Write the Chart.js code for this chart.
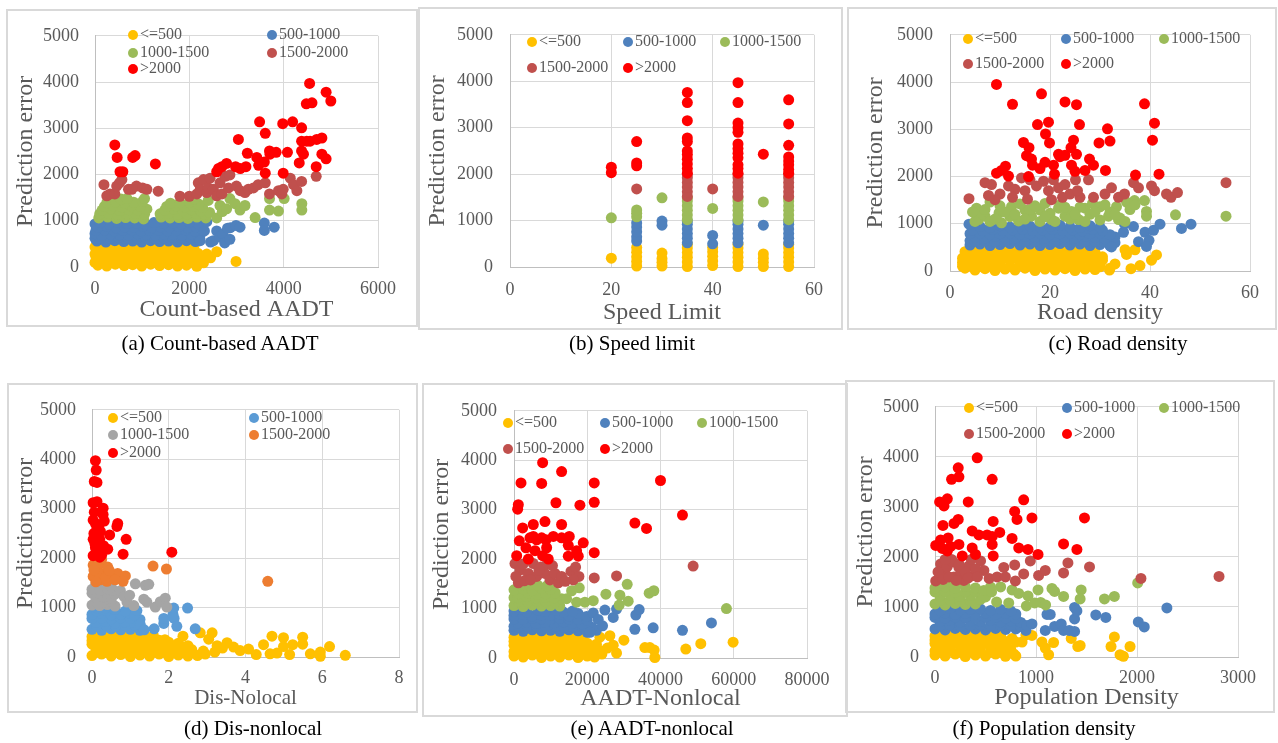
<!DOCTYPE html>
<html>
<head>
<meta charset="utf-8">
<script src="https://cdn.jsdelivr.net/npm/chart.js@4"></script>
<style>
body{margin:0;background:#fff;width:1278px;height:743px;position:relative;overflow:hidden;font-family:"Liberation Serif","Times New Roman",serif;}
canvas{position:absolute}
.frame{position:absolute;border:2px solid #d9d9d9;box-sizing:border-box;pointer-events:none}
.cap{position:absolute;font-size:21px;color:#000;white-space:nowrap;transform:translate(-50%,-50%);line-height:1}
.lg{position:absolute;font-size:16px;color:#595959;white-space:nowrap;transform:translateY(-50%);line-height:1}
.lg i{display:inline-block;width:10px;height:10px;border-radius:50%;margin-right:2px;vertical-align:-1px}
</style>
</head>
<body>
<script>
// series labels shared by all six panels
const labels = ['<=500', '500-1000', '1000-1500', '1500-2000', '>2000'];

// (a) Count-based AADT
const aLe500 = [[60,40],[250,20],[430,60],[620,30],[800,50],[990,20],[1180,60],[1370,30],[1560,50],[1750,20],[1940,40],[2150,30],
  [0,100],[150,110],[340,120],[530,100],[720,110],[910,120],[1100,100],[1290,110],[1480,120],[1670,100],[1860,110],[2050,120],
  [20,220],[160,180],[350,200],[540,170],[730,210],[920,190],[1110,170],[1300,210],[1490,180],[1680,200],[1870,170],[2060,210],
  [0,280],[120,270],[310,260],[500,280],[690,270],[880,260],[1070,280],[1260,270],[1450,260],[1640,280],[1830,270],[2020,260],[2180,300],
  [80,360],[270,340],[460,370],[650,330],[840,360],[1030,340],[1220,370],[1410,330],[1600,360],[1790,340],[1980,370],
  [0,430],[120,410],[310,420],[500,400],[690,420],[880,410],[1070,420],[1260,400],[1450,420],[1640,410],[1830,420],[2020,400],
  [30,470],[200,480],[390,460],[580,490],[770,470],[960,480],[1150,460],[1340,490],[1530,470],[1720,480],[1910,460],[2100,450],
  [2160,15],[2210,240],[2300,90],[2370,280],[2450,200],[2580,330],[2990,120]];
const a500to1000 = [[40,560],[230,540],[420,570],[610,550],[800,560],[990,540],[1180,570],[1370,550],[1560,560],[1750,540],[1940,570],[2130,550],
  [0,620],[120,630],[320,620],[510,640],[700,620],[890,630],[1080,640],[1270,620],[1460,630],[1650,640],[1840,620],[2030,630],[2220,620],
  [0,720],[140,690],[330,710],[520,700],[710,690],[900,720],[1090,700],[1280,690],[1470,710],[1660,700],[1850,690],[2040,710],[2230,700],
  [20,790],[210,800],[400,780],[590,790],[780,800],[970,780],[1160,790],[1350,800],[1540,780],[1730,790],[1920,800],[2110,780],[2280,800],
  [60,860],[250,880],[440,850],[630,870],[820,860],[1010,880],[1200,850],[1390,870],[1580,860],[1770,880],[1960,850],[2140,870],
  [0,930],[300,930],[680,940],[1060,930],[1450,940],[1830,930],[2200,920],
  [110,960],[480,970],[880,950],[1250,960],[1650,955],[2000,965],
  [2230,570],[2320,780],[2370,980],[2450,540],[2510,570],[2580,780],[2650,650],[2710,710],[2750,520],[2810,840],[2860,600],[2870,850],[2990,900],[3075,860],[3590,950],[3590,790],[3800,860]];
const a1000to1500 = [[80,1060],[270,1080],[460,1050],[650,1070],[840,1060],[1030,1040],[1400,1080],[1590,1060],[1780,1070],[1970,1050],[2160,1080],[2350,1060],
  [100,1150],[290,1160],[480,1140],[670,1150],[860,1160],[1050,1140],[1380,1150],[1570,1160],[1760,1140],[1950,1150],[2140,1160],[2330,1140],
  [150,1230],[340,1250],[530,1220],[720,1240],[910,1230],[1100,1250],[1480,1230],[1670,1250],[1860,1220],[2050,1240],[2240,1210],[2430,1180],
  [200,1310],[390,1320],[580,1300],[770,1320],[960,1310],[1520,1310],[1710,1320],[1900,1300],[2090,1310],[2280,1290],
  [250,1390],[440,1410],[630,1380],[820,1400],[1010,1420],[1600,1380],[1800,1390],[2000,1400],[2200,1360],
  [550,1470],[680,1480],[1050,1480],[2100,1470],[2400,1440],
  [2580,1060],[2650,1330],[2700,1200],[2790,1260],[2860,1480],[2970,1370],[3075,1230],[3180,1330],[3395,1070],[3700,1230],[3700,1480],[3890,1210],[4010,1480],[4385,1370],[4385,1230]];
const a1500to2000 = [[190,1780],[250,1540],[320,1580],[420,1580],[460,1750],[520,1820],[570,1890],[710,1680],[780,1680],[880,1750],[1010,1710],[1100,1680],[1340,1640],[1800,1530],[2000,1530],
  [2160,1580],[2190,1820],[2230,1680],[2300,1890],[2370,1610],[2400,1710],[2440,1920],[2510,1680],[2580,1540],[2650,1820],[2690,1580],[2760,1960],[2830,1710],[2860,1990],[3000,1750],[3080,1650],[3180,1610],[3250,1680],[3360,1710],[3460,1780],[3610,1820],[3700,1580],[3890,1650],[3960,1580],[3990,1680],[4140,1920],[4210,1780],[4280,1650],[4380,1850],[4690,1960]];
const a2000plus = [[420,2640],[470,2370],[530,2060],[590,2060],[800,2370],[850,2410],[1280,2230],
  [2580,2060],[2620,2130],[2690,2170],[2790,2240],[2980,2170],[3040,2760],[3080,2130],[3200,2170],[3230,2460],
  [3430,2370],[3470,2200],[3490,3140],[3590,2270],[3610,2890],[3610,2030],[3700,2510],[3710,2440],[3840,2480],
  [3980,3100],[3990,2030],[4080,2480],[4190,3140],[4330,2250],[4380,3010],[4380,2720],[4380,2510],[4420,2440],[4490,2720],[4560,2720],
  [4480,3530],[4550,3970],[4600,3550],[4690,2170],[4700,2760],[4810,2790],[4810,2440],[4900,3780],[4900,2340],[5000,3590]];

// (b) Speed limit
const bLe500 = [[20,190],[25,20],[25,120],[25,220],[25,320],[25,420],[30,20],[30,100],[30,180],[30,300],[35,10],[35,110],[35,210],[35,310],[35,410],[35,490],
  [40,30],[40,130],[40,230],[40,330],[40,420],[45,10],[45,110],[45,210],[45,310],[45,410],[45,490],[50,10],[50,100],[50,190],[50,280],
  [55,10],[55,110],[55,210],[55,310],[55,410],[55,490]];
const b500to1000 = [[25,560],[25,650],[25,760],[25,860],[25,950],[30,900],[30,990],[35,520],[35,620],[35,720],[35,820],[35,920],[35,990],[40,500],[40,680],
  [45,520],[45,620],[45,720],[45,820],[45,920],[45,990],[50,900],[55,520],[55,620],[55,720],[55,820],[55,920],[55,990]];
const b1000to1500 = [[20,1060],[25,1080],[25,1160],[25,1230],[30,1490],[35,1020],[35,1120],[35,1220],[35,1320],[35,1420],[35,1490],[40,1260],
  [45,1020],[45,1120],[45,1220],[45,1320],[45,1420],[45,1490],[50,1400],[55,1020],[55,1120],[55,1220],[55,1320],[55,1420],[55,1490]];
const b1500to2000 = [[25,1680],[35,1520],[35,1620],[35,1720],[35,1820],[35,1920],[35,1990],[40,1680],[45,1520],[45,1620],[45,1720],[45,1820],[45,1920],[45,1990],
  [55,1520],[55,1620],[55,1720],[55,1820],[55,1920],[55,1990]];
const b2000plus = [[20,2030],[20,2150],[25,2180],[25,2240],[25,2700],[35,2020],[35,2120],[35,2220],[35,2320],[35,2420],[35,2500],[35,2700],[35,2780],[35,3150],[35,3540],[35,3760],
  [45,2020],[45,2120],[45,2200],[45,2350],[45,2450],[45,2550],[45,2650],[45,2900],[45,3000],[45,3100],[45,3540],[45,3970],[50,2430],
  [55,2020],[55,2100],[55,2200],[55,2280],[55,2370],[55,2620],[55,3080],[55,3600]];

// (c) Road density
const cLe500 = [[3,60],[5,20],[7,50],[9,10],[11,40],[13,20],[15,60],[17,10],[19,40],[21,20],[23,50],[25,10],[27,40],[29,30],
  [2.5,100],[4,110],[6,100],[8,120],[10,110],[12,100],[14,120],[16,110],[18,100],[20,120],[22,110],[24,100],[26,120],[28,110],[30,90],
  [2.5,180],[4,210],[6,170],[8,200],[10,180],[12,210],[14,170],[16,200],[18,180],[20,210],[22,170],[24,200],[26,180],[28,210],[30,150],
  [2.5,270],[4.5,260],[6.5,280],[8.5,270],[10.5,260],[12.5,280],[14.5,270],[16.5,260],[18.5,280],[20.5,270],[22.5,260],[24.5,280],[26.5,270],[28.5,260],[30.5,230],
  [3,330],[5,350],[7,320],[9,340],[11,360],[13,330],[15,350],[17,320],[19,340],[21,360],[23,330],[25,350],[27,320],[29,360],
  [3,410],[5,420],[7,400],[9,410],[11,420],[13,400],[15,410],[17,420],[19,400],[21,410],[23,420],[25,400],[27,410],[29,400],
  [4,470],[6,460],[8,480],[10,470],[12,450],[14,480],[16,460],[18,470],[20,490],[22,460],[24,480],[26,470],[28,450],
  [30.5,300],[31.9,20],[32,60],[33,150],[35,450],[35.3,350],[36.2,50],[37,450],[38,115],[40.3,230],[41.3,340]];
const c500to1000 = [[4,550],[6,570],[8,540],[10,560],[12,580],[14,550],[16,570],[18,540],[20,560],[22,580],[24,550],[26,570],[28,540],[30,560],[32,530],
  [4,640],[5,630],[7,640],[9,620],[11,630],[13,640],[15,620],[17,630],[19,640],[21,620],[23,630],[25,640],[27,620],[29,630],[31,620],[33,600],
  [5,720],[7,700],[9,730],[11,710],[13,700],[15,730],[17,710],[19,700],[21,730],[23,710],[25,700],[27,730],[29,710],[31,690],[33,720],
  [4,790],[6,800],[8,780],[10,790],[12,800],[14,780],[16,790],[18,800],[20,780],[22,790],[24,800],[26,780],[28,790],[30,800],[32,770],
  [4.5,870],[6.5,860],[8.5,880],[10.5,860],[12.5,870],[14.5,880],[16.5,860],[18.5,870],[20.5,880],[22.5,860],[24.5,870],[26.5,850],[28.5,880],[30.5,860],
  [6,940],[8,920],[12,930],[14,950],[18,930],[20,940],[24,930],[26,920],[30,930],
  [3.8,990],[10,960],[16,950],[22,970],[28,960],
  [34.7,820],[34.9,990],[36.7,940],[37.7,620],[39,820],[39.8,650],[39.3,520],[40.7,860],[42,990],[46.3,900],[48.2,990],[32.3,510]];
const c1000to1500 = [[5.3,1330],[5.7,1090],[7,1160],[8,1460],[9.8,1230],[10.3,1020],[12.3,1360],[13.7,1060],[15,1290],[16.3,1160],[18,1290],[19,1430],[20.3,1090],[21.7,1330],[23,1160],
  [24.3,1260],[25.7,1090],[27,1330],[28.5,1430],[30,1360],[31.7,1160],[33.3,1360],[33.7,1090],[35.3,1460],[36.9,1490],[38.9,1490],[39.3,1260],[39.3,1160],[45.1,1190],[55.2,1160],
  [6,1200],[8,1050],[10,1380],[12,1150],[14,1420],[16,1300],[18,1050],[20,1220],[22,1400],[24,1100],[26,1350],[28,1200],[30,1080],[32,1250],[34,1120],[36,1300],
  [7,1300],[9,1100],[11,1250],[13,1200],[15,1100],[17,1380],[19,1150],[21,1050],[23,1350],[25,1200],[27,1050],[29,1250],[31,1400],[33,1200],[35,1050],[37,1400],[5,1050],[4.5,1250]];
const c1500to2000 = [[3.8,1530],[7,1870],[8.3,1830],[7.7,1600],[10,1630],[11.7,1800],[13,1730],[14.3,1970],[15,1700],[16,1930],[17.3,1800],[18.7,1900],[19.7,1700],[20.7,1930],[21.7,1760],
  [23,1830],[24,1630],[25.1,1930],[26,1560],[27.7,1930],[28.7,1560],[31,1630],[32.3,1760],[33.7,1560],[34.9,1630],[36.7,1870],[37.7,1760],[40.3,1800],[40.9,1700],[43.3,1630],
  [44.2,1560],[45.5,1660],[55.2,1870],[9,1510],[12.5,1560],[15.5,1520],[20.3,1510],[22.5,1560],[25.5,1700]];
const c2000plus = [[9.3,3950],[12.5,3530],[18.3,3750],[23,3580],[25.3,3520],[17.5,3100],[19.7,3150],[25.9,3100],[31.5,3010],[19.1,2900],[14.7,2720],[19.9,2710],[24.7,2770],[29.8,2710],[32,2750],
  [38.9,3540],[40.9,3130],[40.5,2770],[15.8,2610],[15.3,2440],[16.3,2370],[21.7,2470],[23,2450],[24.2,2610],[25.3,2470],[16.5,2240],[18,2170],[20.7,2240],[24.3,2240],[25,2110],
  [27,2130],[27.9,2370],[28.7,2240],[31.1,2130],[9.3,2070],[10.3,2130],[11.1,2220],[11.7,2010],[15.7,2000],[20.9,2050],[22,2420],[37.1,2030],[41.8,2050],[19,2300]];

// (d) Dis-nonlocal
const dLe500 = [[0,30],[0.25,60],[0.5,20],[0.75,50],[1,10],[1.25,40],[1.5,20],[1.75,60],[2,10],[2.25,40],[2.5,20],[2.75,30],
  [0.12,110],[0.37,100],[0.62,120],[0.87,110],[1.12,100],[1.37,120],[1.62,110],[1.87,100],[2.12,120],[2.37,110],[2.62,90],
  [0.1,180],[0.35,200],[0.6,170],[0.85,210],[1.1,180],[1.35,200],[1.6,170],[1.85,210],[2.1,180],[2.35,200],[2.6,150],[2.9,120],
  [0,260],[0.25,270],[0.5,250],[0.75,260],[1,270],[1.25,250],[1.5,260],[1.75,270],[2,240],[2.25,200],
  [0,330],[0.25,350],[0.5,320],[0.75,360],[1,330],[1.25,350],[1.5,320],[1.75,340],[2,300],[2.25,280],[2.5,230],
  [0,410],[0.25,400],[0.5,420],[0.75,400],[1,410],[1.25,390],[1.5,380],[1.9,350],
  [0.1,470],[0.35,450],[0.6,480],[0.85,460],[1.1,470],[1.35,450],[1.6,430],[2.37,420],
  [2.82,490],[3.13,490],[3.04,360],[3.26,230],[3.52,290],[3.69,200],[3.86,130],[4.08,160],[4.28,50],[4.47,250],[4.69,420],[4.64,65],[4.82,80],
  [4.99,390],[4.99,210],[5.15,50],[5.23,250],[5.49,400],[5.49,260],[5.69,65],[5.95,100],[5.95,15],[6.19,210],[6.6,35],[3.2,100],[3.4,180],[2.95,60]];
const d500to1000 = [[0,560],[0.25,540],[0.5,570],[0.75,550],[1,560],[1.25,540],
  [0.12,630],[0.37,640],[0.62,620],[0.87,630],[1.12,640],
  [0.1,700],[0.35,720],[0.6,690],[0.85,710],[1.1,700],
  [0,780],[0.25,790],[0.5,770],[0.75,790],[1,780],[1.25,760],
  [0,860],[0.25,880],[0.5,850],[0.75,870],[1,880],[1.1,850],
  [0.12,930],[0.37,940],[0.87,930],[0.15,980],[0.35,990],[0.6,960],
  [1.17,940],[1.26,650],[1.36,550],[1.62,570],[1.87,680],[1.87,780],[2.11,860],[2.13,990],[2.14,780],[2.21,620],[2.49,990],[2.69,570]];
const d1000to1500 = [[0,1050],[0.2,1040],[0.4,1060],[0.6,1030],[0.1,1120],[0.3,1110],[0.5,1130],[0.1,1200],[0.3,1220],[0.5,1190],
  [0,1290],[0.2,1290],[0.4,1280],[0.6,1270],[0,1370],[0.2,1350],[0.4,1380],[0.55,1350],[0.1,1480],[0.3,1460],[0.5,1420],
  [0.74,1340],[0.84,1220],[0.91,1110],[0.98,1250],[1.09,1040],[1.13,1480],[1.39,1450],[1.48,1470],[1.35,1170],[1.43,1110],[1.65,1010],[1.78,1120],[1.91,1190],[1.95,1010]];
const d1500to2000 = [[0.03,1860],[0.13,1760],[0.22,1890],[0.3,1690],[0.41,1820],[0.52,1660],[0.03,1630],[0.22,1560],[0.39,1530],[0.67,1690],[0.87,1640],[0.81,1530],
  [0.15,1700],[0.35,1600],[0.45,1750],[0.05,1760],[0.6,1560],
  [1.59,1840],[1.94,1780],[4.58,1530],[0.09,1950],[0.25,1970],[0.1,1520]];
const d2000plus = [[0.09,3970],[0.11,3780],[0.06,3550],[0.13,3530],[0.03,3120],[0.13,3140],[0.29,3010],[0.29,2880],[0.32,2750],[0.03,2770],[0.09,2700],[0.67,2700],[0.65,2640],
  [0.46,2470],[0.22,2540],[0.03,2380],[0.13,2340],[0.09,2210],[0.22,2180],[0.41,2180],[0.03,2050],[0.2,2020],[0.81,2080],[0.89,2380],[2.08,2120],[0.13,2600],[0.06,2930],[0.15,2450],[0.08,2280],
  [0.05,2500],[0.18,2650],[0.2,2380],[0.3,2250],[0.1,2100],[0.25,2060]];

// (e) AADT-nonlocal
const eLe500 = [[0,40],[2500,20],[5000,60],[7500,10],[10000,40],[12500,20],[15000,60],[17500,10],[20000,40],[22000,20],
  [0,130],[1250,110],[3750,120],[6250,100],[8750,110],[11250,120],[13750,100],[16250,110],[18750,120],[21250,100],
  [1000,200],[3500,180],[6000,210],[8500,170],[11000,200],[13500,180],[16000,210],[18500,170],[21000,200],[23500,150],
  [0,260],[2500,270],[5000,250],[7500,260],[10000,270],[12500,250],[15000,260],[17500,270],[20000,240],[22000,200],
  [0,340],[2500,360],[5000,330],[7500,350],[10000,320],[12500,350],[15000,340],[17500,330],[20000,300],[22500,280],
  [0,420],[1250,410],[3750,400],[6250,420],[8750,400],[11250,410],[13750,390],[16250,380],
  [1000,470],[3500,450],[6000,480],[8500,460],[11000,470],[13500,450],[16000,440],[18500,420],
  [23450,420],[26180,450],[27090,260],[28000,100],[30000,360],[35730,210],[37090,210],[38270,160],[38450,10],[46910,180],[51000,290],[59820,320],[24000,80],[25500,200]];
const e500to1000 = [[0,560],[2500,540],[5000,570],[7500,550],[10000,560],[12500,540],[15000,570],[17500,550],[20000,520],[22500,560],
  [0,640],[1250,630],[3750,640],[6250,620],[8750,630],[11250,640],[13750,620],[16250,630],[18750,640],[21250,620],
  [1000,710],[3500,730],[6000,700],[8500,720],[11000,710],[13500,730],[16000,700],[18500,690],
  [0,790],[2500,780],[5000,800],[7500,790],[10000,780],[12500,800],[15000,790],[17500,780],[20000,760],
  [0,860],[2500,880],[5000,850],[7500,870],[10000,860],[12500,880],[15000,850],[17500,900],
  [0,950],[3500,930],[8500,940],[13500,930],[16000,950],[1500,980],[6500,970],[11500,960],
  [19820,840],[21640,910],[23000,780],[24820,970],[24180,650],[27090,820],[28000,990],[33270,870],[34180,980],[33000,580],[38000,610],[46000,560],[53910,710],[20730,520]];
const e1000to1500 = [[0,1060],[2500,1040],[5000,1070],[7500,1050],[10000,1060],[12500,1050],
  [1250,1140],[3750,1130],[6250,1150],[8750,1140],[11250,1130],[13000,1200],
  [0,1220],[1000,1220],[3500,1240],[6000,1210],[8500,1230],[11000,1220],
  [1250,1300],[3750,1310],[6250,1290],[8750,1300],[11250,1320],
  [0,1380],[2500,1400],[5000,1370],[7500,1410],[10000,1390],[4000,1480],[2500,1480],[6500,1470],[9000,1460],
  [14360,1200],[15730,1360],[17820,1420],[17090,1130],[19360,1130],[21640,1160],[25090,1290],[28910,1270],[28730,1070],[30910,1490],[31180,1150],[36910,1310],[38180,1360],[58000,1000]];
const e1500to2000 = [[270,1910],[1640,1780],[1180,1520],[3910,1710],[5270,1910],[6180,1650],[7360,1840],[8450,1710],[9820,1580],[11180,1710],[12090,1520],[13000,1650],
  [15550,1750],[16820,1840],[17730,1650],[16180,1580],[21910,1620],[28000,1660],[48910,1860],[2800,1560],[9000,1900],
  [500,1650],[2500,1900],[4500,1580],[6800,1780],[10500,1870],[14000,1550]];
const e2000plus = [[7820,3950],[13000,3770],[1910,3540],[7550,3530],[21910,3540],[40000,3590],[1180,3100],[1000,3010],[11450,3140],[18000,3090],[21910,3150],[33000,2730],[36180,2620],[46000,2890],
  [2360,2630],[5270,2700],[8450,2760],[13000,2700],[1450,2370],[3270,2230],[4360,2430],[5270,2460],[6180,2390],[7550,2430],[8730,2390],[8910,2230],[10730,2460],[13000,2430],
  [15090,2460],[14820,2280],[17090,2170],[18910,2330],[14820,2060],[17550,2060],[21910,2130],[730,2070],[3910,2000],[5730,2170],[7820,2070],[9360,2000]];

// (f) Population density
const fLe500 = [[0,40],[100,20],[200,60],[300,10],[400,40],[500,20],[600,60],[700,30],[800,20],
  [0,120],[50,110],[150,120],[250,100],[350,110],[450,120],[550,100],[650,110],[750,100],
  [50,200],[150,180],[250,210],[350,170],[450,200],[550,180],[650,210],[750,150],
  [0,270],[100,260],[200,280],[300,270],[400,260],[500,280],[600,270],[700,240],
  [0,340],[100,360],[200,330],[300,350],[400,320],[500,350],[600,340],[700,310],[800,300],
  [0,420],[50,400],[150,410],[250,390],[350,400],[450,410],[550,390],
  [50,470],[150,450],[250,480],[350,460],[450,470],[550,450],[650,420],[900,440],
  [763,370],[862,300],[960,430],[1059,300],[1092,180],[1125,45],[1174,290],[1349,370],[1414,210],[1437,230],[1743,210],[1776,400],[1832,45],[1865,15],[1931,210],[697,15],[780,60]];
const f500to1000 = [[0,560],[100,540],[200,570],[300,550],[400,560],[500,540],[600,570],[700,550],[800,560],[900,530],
  [50,630],[150,640],[250,620],[350,630],[450,640],[550,620],[650,630],[750,640],[850,610],
  [50,710],[150,730],[250,700],[350,720],[450,710],[550,730],[650,700],[750,720],[850,690],
  [0,790],[100,780],[200,800],[300,790],[400,780],[500,800],[600,790],[700,780],[800,770],
  [0,860],[100,880],[200,850],[300,870],[400,860],[500,880],[600,850],[700,870],[800,860],
  [50,930],[250,940],[350,950],[550,930],[750,920],[150,970],[450,960],[650,950],
  [911,630],[960,660],[1092,530],[1109,850],[1141,850],[1184,610],[1250,660],[1273,530],[1329,530],[1382,510],[1382,990],[1382,760],[1405,920],[1592,840],[1691,790],[2013,700],[2072,600],[2296,980]];
const f1000to1500 = [[0,1060],[100,1040],[200,1070],[300,1050],[400,1060],
  [50,1130],[150,1140],[250,1120],[350,1130],[450,1150],
  [50,1220],[150,1240],[250,1210],[350,1230],
  [0,1300],[100,1310],[200,1290],[300,1300],[400,1300],
  [0,1380],[100,1400],[200,1370],[300,1410],[400,1380],[180,1480],[60,1470],[280,1470],[500,1200],[550,1400],
  [484,1330],[560,1300],[763,1340],[829,1270],[921,1220],[905,1020],[987,1080],[1020,1340],[1046,1090],[1095,1040],[1158,1370],[1184,1310],[1273,1210],[1447,1340],[1437,1160],[1678,1160],[1776,1210],[2007,1480],[730,1080],[650,1400],[610,1100]];
const f1500to2000 = [[7,1520],[56,1860],[99,1660],[164,1950],[188,1600],[237,1790],[286,1530],[336,1820],[385,1630],[451,1920],[484,1730],[536,1570],[615,1600],[681,1790],[697,1600],
  [789,1840],[878,1660],[796,1520],[944,1920],[1026,1630],[1092,1730],[1316,1880],[1273,1680],[1530,1800],[2039,1570],[2812,1610],[120,1800],[260,1680],[400,1760],
  [30,1700],[80,1550],[140,1600],[210,1530],[180,1900],[300,1700],[330,1580],[420,1600],[360,1950],[240,1850],[100,1950]];
const f2000plus = [[418,3980],[230,3780],[237,3600],[164,3550],[566,3550],[46,3100],[122,3160],[89,3020],[329,3100],[878,3140],[789,2910],[812,2750],[960,2780],[1480,2780],
  [79,2630],[188,2670],[230,2750],[576,2710],[368,2520],[434,2440],[516,2440],[566,2410],[641,2490],[763,2370],
  [7,2230],[72,2170],[122,2120],[155,2210],[237,2250],[270,2020],[368,2180],[401,2050],[576,2020],[566,2250],[829,2180],[921,2150],[1020,2050],[1273,2260],[1405,2150],[56,2340],[130,2380]];

const xlColors = ['#FFC000', '#4F81BD', '#9BBB59', '#C0504D', '#FF0000'];
const dColors = ['#FFC000', '#5B9BD5', '#A5A5A5', '#ED7D31', '#FF0000'];

const FONT = 'Liberation Serif';
const GREY = '#595959';

// box = panel frame [l,t,r,b], plot = chart area [l,t,r,b], page pixels
const panels = [
  {box:[6,9,418,327], plot:[95,27,378,267], xMax:6000, xStep:2000, xTitle:'Count-based AADT', xSize:24, xTitleY:310, yTitleX:26, xTickY:289, yGap:16,
   caption:'(a) Count-based AADT', cap:[220,343], series:[aLe500,a500to1000,a1000to1500,a1500to2000,a2000plus], colors:xlColors, lgRows:[34,52,68], lgCols:[133,272]},
  {box:[418,7,843,330], plot:[510,27,814,267], xMax:60, xStep:20, xTitle:'Speed Limit', xSize:24, xTitleY:313, yTitleX:438, xTickY:290, yGap:17,
   caption:'(b) Speed limit', cap:[632,343], series:[bLe500,b500to1000,b1000to1500,b1500to2000,b2000plus], colors:xlColors, lgRows:[41,67], lgCols:[532,628,725]},
  {box:[847,7,1277,330], plot:[950,23,1250,271], xMax:60, xStep:20, xTitle:'Road density', xSize:24, xTitleY:313, yTitleX:876, xTickY:293, yGap:17,
   caption:'(c) Road density', cap:[1118,343], series:[cLe500,c500to1000,c1000to1500,c1500to2000,c2000plus], colors:xlColors, lgRows:[38,63], lgCols:[968,1066,1164]},
  {box:[7,383,418,713], plot:[92,401,399,657], xMax:8, xStep:2, xTitle:'Dis-Nolocal', xSize:21, xTitleY:698, yTitleX:26, xTickY:678, yGap:16,
   caption:'(d) Dis-nonlocal', cap:[253,728], series:[dLe500,d500to1000,d1000to1500,d1500to2000,d2000plus], colors:dColors, lgRows:[417,434,452], lgCols:[113,254]},
  {box:[422,383,848,717], plot:[514,401,807,658], xMax:80000, xStep:20000, xTitle:'AADT-Nonlocal', xSize:24, xTitleY:699, yTitleX:442, xTickY:680, yGap:17,
   caption:'(e) AADT-nonlocal', cap:[652,728], series:[eLe500,e500to1000,e1000to1500,e1500to2000,e2000plus], colors:xlColors, lgRows:[422,448], lgCols:[508,605,702]},
  {box:[845,380,1275,713], plot:[935,397,1238,657], xMax:3000, xStep:1000, xTitle:'Population Density', xSize:24, xTitleY:698, yTitleX:866, xTickY:678, yGap:16,
   caption:'(f) Population density', cap:[1044,728], series:[fLe500,f500to1000,f1000to1500,f1500to2000,f2000plus], colors:xlColors, lgRows:[407,433], lgCols:[969,1067,1164]}
];

panels.forEach(p => {
  const [bl, bt, br, bb] = p.box;
  const [pl, pt, pr, pb] = p.plot;
  const W = br - bl, H = bb - bt;

  const cv = document.createElement('canvas');
  cv.width = W; cv.height = H;
  cv.style.left = bl + 'px'; cv.style.top = bt + 'px';
  cv.style.width = W + 'px'; cv.style.height = H + 'px';
  document.body.appendChild(cv);

  const frame = document.createElement('div');
  frame.className = 'frame';
  frame.style.cssText = `left:${bl}px;top:${bt}px;width:${W}px;height:${H}px`;
  document.body.appendChild(frame);

  const cap = document.createElement('div');
  cap.className = 'cap';
  cap.textContent = p.caption;
  cap.style.left = p.cap[0] + 'px'; cap.style.top = p.cap[1] + 'px';
  document.body.appendChild(cap);

  // legend laid out Excel-style inside the plot area
  const nc = p.lgCols.length;
  labels.forEach((lab, i) => {
    const el = document.createElement('div');
    el.className = 'lg';
    el.innerHTML = `<i style="background:${p.colors[i]}"></i>`;
    el.appendChild(document.createTextNode(lab));
    el.style.left = (p.lgCols[i % nc] - 5) + 'px';
    el.style.top = p.lgRows[Math.floor(i / nc)] + 'px';
    document.body.appendChild(el);
  });

  const tickFont = {family: FONT, size: 18};
  new Chart(cv, {
    type: 'scatter',
    data: {
      datasets: p.series.map((d, i) => ({
        label: labels[i],
        data: d,
        backgroundColor: p.colors[i],
        borderWidth: 0,
        pointRadius: 5.5,
        clip: false,
        order: 5 - i
      }))
    },
    options: {
      responsive: false,
      animation: false,
      devicePixelRatio: 1,
      layout: {padding: {left: 0, top: pt - bt, right: br - pr, bottom: 0}},
      plugins: {legend: {display: false}, tooltip: {enabled: false}},
      scales: {
        x: {
          type: 'linear', min: 0, max: p.xMax,
          ticks: {stepSize: p.xStep, color: GREY, font: tickFont, padding: p.xTickY - pb - 0.6 * 18, callback: v => String(v)},
          grid: {color: '#d9d9d9', drawTicks: false},
          border: {color: '#bfbfbf'},
          title: {display: true, text: p.xTitle, color: GREY, font: {family: FONT, size: p.xSize},
                  padding: {top: 0, bottom: Math.max(0, H - (p.xTitleY - bt) - 0.6 * p.xSize)}},
          afterFit: s => { s.height = bb - pb; }
        },
        y: {
          min: 0, max: 5000,
          ticks: {stepSize: 1000, color: GREY, font: tickFont, padding: p.yGap, callback: v => String(v)},
          grid: {color: '#d9d9d9', drawTicks: false},
          border: {color: '#bfbfbf'},
          title: {display: true, text: 'Prediction error', color: GREY, font: {family: FONT, size: 24},
                  padding: {top: Math.max(0, (p.yTitleX - bl) - 14.4), bottom: 0}},
          afterFit: s => { s.width = pl - bl; }
        }
      }
    }
  });
});
</script>
</body>
</html>
